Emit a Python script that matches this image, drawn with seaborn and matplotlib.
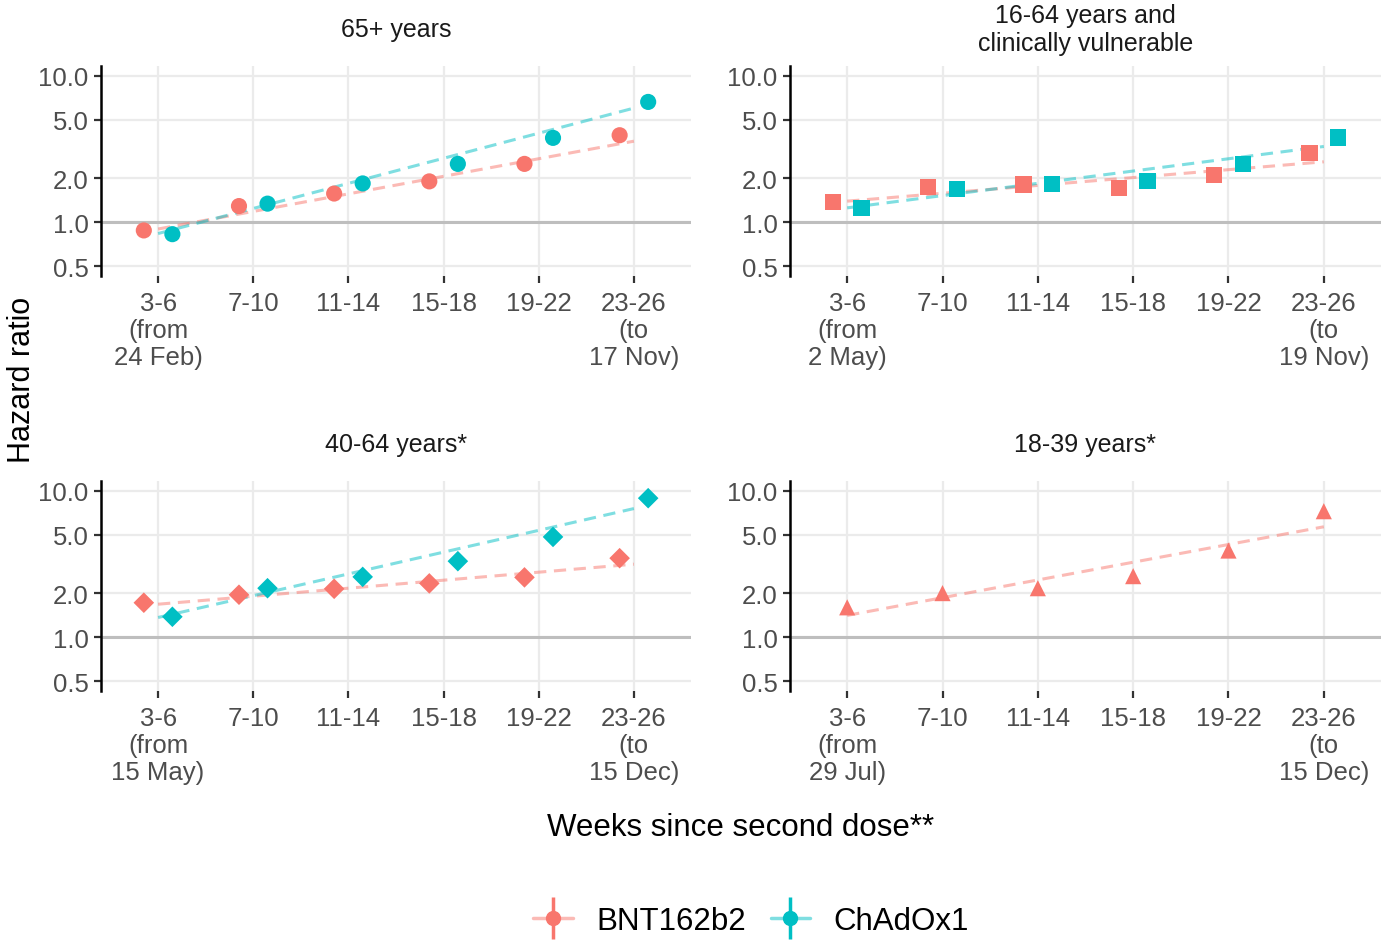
import numpy as np
import pandas as pd
import matplotlib.pyplot as plt
import seaborn as sns
from matplotlib.lines import Line2D
from matplotlib.ticker import NullLocator
from matplotlib.legend_handler import HandlerTuple

# Категории и подписи
weeks = ["3-6", "7-10", "11-14", "15-18", "19-22", "23-26"]
vaccines = ["BNT162b2", "ChAdOx1"]
groups = ["65+ years", "16-64 years and\nclinically vulnerable", "40-64 years*", "18-39 years*"]
start_dates = ["24 Feb", "2 May", "15 May", "29 Jul"]
end_dates = ["17 Nov", "19 Nov", "15 Dec", "15 Dec"]
markers = ["o", "s", "D", "^"]
palette = {"BNT162b2": "#F8766D", "ChAdOx1": "#00BFC4"}

# Отношения рисков
hr_65_bnt = [0.88, 1.29, 1.57, 1.90, 2.50, 3.92]
hr_65_chad = [0.83, 1.34, 1.84, 2.50, 3.76, 6.61]
hr_cv_bnt = [1.38, 1.75, 1.81, 1.71, 2.10, 2.97]
hr_cv_chad = [1.25, 1.69, 1.83, 1.92, 2.49, 3.78]
hr_40_bnt = [1.72, 1.95, 2.14, 2.33, 2.56, 3.46]
hr_40_chad = [1.38, 2.16, 2.58, 3.30, 4.83, 8.87]
hr_18_bnt = [1.60, 2.00, 2.16, 2.61, 3.90, 7.23]

series = {
    groups[0]: {"BNT162b2": hr_65_bnt, "ChAdOx1": hr_65_chad},
    groups[1]: {"BNT162b2": hr_cv_bnt, "ChAdOx1": hr_cv_chad},
    groups[2]: {"BNT162b2": hr_40_bnt, "ChAdOx1": hr_40_chad},
    groups[3]: {"BNT162b2": hr_18_bnt},
}

rows = []
for g, d in series.items():
    for v, vals in d.items():
        for i, val in enumerate(vals):
            rows.append({"group": g, "vaccine": v, "idx": i, "hr": val})
df = pd.DataFrame(rows)

sns.set_theme(style="whitegrid")
plt.rcParams['font.family'] = ['Liberation Sans', 'DejaVu Sans']

W, H = 1389, 945
fig = plt.figure(figsize=(W / 100, H / 100), dpi=100)

# Положение панелей в пикселях: left, top, right, bottom
boxes = [(101, 67, 691, 277), (790, 67, 1381, 277), (101, 482, 691, 692), (790, 482, 1381, 692)]
title_y = [30, 30, 445, 445]

for k, g in enumerate(groups):
    l, t, r, b = boxes[k]
    ax = fig.add_axes([l / W, 1 - b / H, (r - l) / W, (b - t) / H])
    sub = df[df['group'] == g].copy()
    n_vac = sub['vaccine'].nunique()
    off = {"BNT162b2": -0.15, "ChAdOx1": 0.15} if n_vac > 1 else {"BNT162b2": 0.0}
    sub['xpos'] = sub['idx'] + sub['vaccine'].map(off)

    # Линии тренда (лог-линейная регрессия)
    trend = []
    for v, s in sub.groupby('vaccine'):
        coef = np.polyfit(s['idx'], np.log10(s['hr']), 1)
        for i in range(len(weeks)):
            trend.append({"vaccine": v, "idx": i, "fit": 10 ** np.polyval(coef, i)})
    trend = pd.DataFrame(trend)

    ax.axhline(1, color='#BEBEBE', lw=2.2, zorder=1.5)
    sns.lineplot(data=trend, x='idx', y='fit', hue='vaccine', palette=palette, alpha=0.5,
                 lw=2.2, linestyle=(0, (4, 2.5)), legend=False, ax=ax, zorder=2)
    sns.scatterplot(data=sub, x='xpos', y='hr', hue='vaccine', palette=palette,
                    marker=markers[k], s=135 if markers[k] != 'D' else 110,
                    edgecolor='none', legend=False, ax=ax, zorder=3)

    ax.set_yscale('log')
    ax.set_ylim(10 ** -0.366, 10 ** 1.065)
    ax.set_yticks([0.5, 1, 2, 5, 10])
    ax.set_yticklabels(["0.5", "1.0", "2.0", "5.0", "10.0"])
    ax.yaxis.set_minor_locator(NullLocator())
    ax.set_xlim(-0.6, 5.6)
    ax.set_xticks(range(len(weeks)))
    labels = list(weeks)
    labels[0] = f"{weeks[0]}\n(from\n{start_dates[k]})"
    labels[-1] = f"{weeks[-1]}\n(to\n{end_dates[k]})"
    ax.set_xticklabels(labels, linespacing=1.15)
    ax.set_xlabel('')
    ax.set_ylabel('')

    ax.grid(True, color='#EBEBEB', lw=1.6)
    ax.set_axisbelow(True)
    for side in ['top', 'right', 'bottom']:
        ax.spines[side].set_visible(False)
    ax.spines['left'].set_color('black')
    ax.spines['left'].set_linewidth(1.8)
    ax.tick_params(axis='both', bottom=True, left=True, length=5, width=1.6,
                   color='#333333', labelsize=18.5, labelcolor='#4D4D4D', pad=4)
    ax.tick_params(axis='x', pad=6)

    fig.text((l + r) / 2 / W, 1 - title_y[k] / H, g, ha='center', va='center',
             fontsize=18, color='#1A1A1A', linespacing=1.2)

fig.text(741 / W, 1 - 828 / H, "Weeks since second dose**", ha='center', va='center',
         fontsize=22.5, color='black')
fig.text(22 / W, 1 - 380 / H, "Hazard ratio", ha='center', va='center', rotation=90,
         fontsize=22, color='black')

# Легенда
handles = []
for v in vaccines:
    c = palette[v]
    handles.append((Line2D([], [], color=c, alpha=0.5, lw=2.5),
                    Line2D([], [], color=c, marker='|', markersize=30, mew=2.5, linestyle='none'),
                    Line2D([], [], color=c, marker='o', markersize=10, linestyle='none')))
leg = fig.legend(handles, vaccines, handler_map={tuple: HandlerTuple(ndivide=1, pad=0)},
                 loc='center', bbox_to_anchor=(751 / W, 1 - 922 / H), ncol=2, frameon=False,
                 fontsize=22.5, handlelength=1.25, handletextpad=0.75, columnspacing=0.8)
for txt in leg.get_texts():
    txt.set_color('black')

fig.savefig('out.png', dpi=100)
